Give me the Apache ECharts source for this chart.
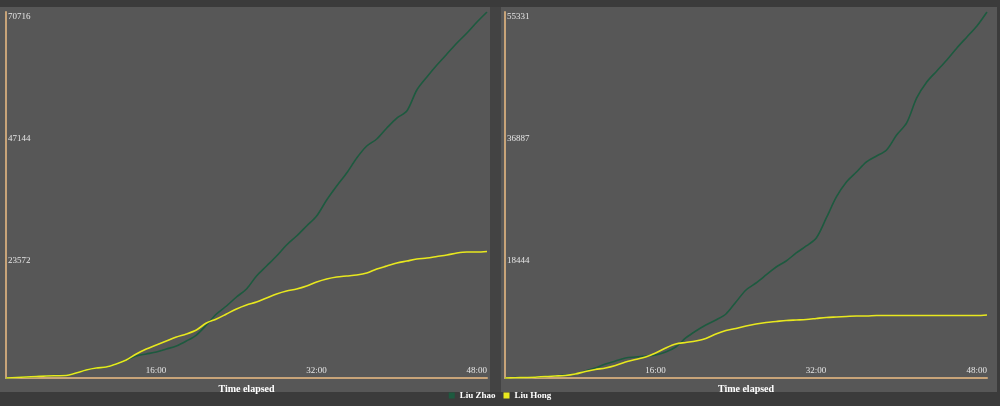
<!DOCTYPE html>
<html>
<head>
<meta charset="utf-8">
<script src="https://cdn.jsdelivr.net/npm/echarts@6/dist/echarts.min.js"></script>
<style>html,body{margin:0;padding:0;background:#3b3b3b;}#c{width:1000px;height:406px;}</style>
</head>
<body>
<div id="c"></div>
<script>
// minutes elapsed
var minutes = [0,1,2,3,4,5,6,7,8,9,10,11,12,13,14,15,16,17,18,19,20,21,22,23,24,25,26,27,28,29,30,31,32,33,34,35,36,37,38,39,40,41,42,43,44,45,46,47,48];
var seriesNames = ['Liu Zhao', 'Liu Hong'];
// left chart
var leftZhao = [0,100,193,290,387,480,483,966,1546,1932,2125,2705,3478,4251,4637,5023,5603,6183,7148,8308,10240,12365,13910,15649,17195,19706,21638,23570,25695,27434,29366,31298,34389,37094,39605,42503,44822,46174,48299,50231,51584,55641,58152,60470,62596,64721,66653,68778,70716];
var leftHong = [0,100,193,290,387,440,483,966,1546,1932,2125,2705,3478,4637,5603,6376,7148,7921,8501,9274,10626,11399,12365,13331,14104,14683,15456,16229,16808,17195,17774,18547,19127,19513,19706,19900,20286,21059,21638,22218,22604,22991,23184,23474,23764,24150,24343,24343,24440];
var leftTicks = [0, 23572, 47144, 70716];
// right chart
var rightZhao = [0,50,76,120,227,300,454,605,1058,1512,2117,2570,3024,3175,3326,3478,3931,4687,6048,7106,8014,8770,9677,11491,13306,14364,15574,16783,17690,18900,19958,21168,24192,27367,29635,31147,32659,33566,34474,36742,38556,42336,44755,46418,48082,49896,51559,53222,55331];
var rightHong = [0,40,76,120,227,300,378,605,983,1285,1512,1890,2419,2797,3175,3780,4536,5141,5368,5594,5972,6653,7182,7484,7862,8165,8392,8543,8694,8770,8845,8996,9148,9223,9299,9374,9374,9450,9450,9450,9450,9450,9450,9450,9450,9450,9450,9450,9526];
var rightTicks = [0, 18444, 36887, 55331];

function pairs(xs, ys){ return xs.map(function(x,i){ return [x, ys[i]]; }); }

var green = '#1d5a3f', yellow = '#e8e81e', axisCol = '#c8a479', txt = '#e6e6e6';
var chart = echarts.init(document.getElementById('c'));

function xAx(gi){
  return {
    gridIndex: gi, type: 'value', min: 0, max: 48, interval: 16,
    name: 'Time elapsed', nameLocation: 'middle', nameGap: 6,
    nameTextStyle: {color: '#ffffff', fontFamily: 'Liberation Serif', fontWeight: 'bold', fontSize: 10},
    axisLine: {lineStyle: {color: axisCol, width: 2}},
    axisTick: {show: false}, splitLine: {show: false},
    axisLabel: {inside: true, showMinLabel: false, color: txt, fontFamily: 'Liberation Serif', fontSize: 9, align: 'right', margin: 3,
      formatter: function(v){ return v === 0 ? '' : v + ':00'; }}
  };
}
function yAx(gi, ticks){
  return {
    gridIndex: gi, type: 'value', min: 0, max: ticks[3], interval: ticks[1],
    axisLine: {show: true, lineStyle: {color: axisCol, width: 2}},
    axisTick: {show: false}, splitLine: {show: false},
    axisLabel: {inside: true, showMinLabel: false, color: txt, fontFamily: 'Liberation Serif', fontSize: 9, verticalAlign: 'top', margin: 2,
      customValues: ticks, formatter: function(v){ return String(Math.round(v)); }}
  };
}
function ln(name, gi, data, color){
  return {name: name, type: 'line', xAxisIndex: gi, yAxisIndex: gi, data: data, showSymbol: false, smooth: 0.3,
    lineStyle: {color: color, width: 1.6}, itemStyle: {color: color}};
}

chart.setOption({
  backgroundColor: '#3b3b3b',
  animation: false,
  graphic: [
    {type: 'rect', shape: {x: 0, y: 7, width: 490, height: 385}, style: {fill: '#575757'}, z: -10},
    {type: 'rect', shape: {x: 490, y: 7, width: 11, height: 385}, style: {fill: '#434343'}, z: -10},
    {type: 'rect', shape: {x: 501, y: 7, width: 496, height: 385}, style: {fill: '#575757'}, z: -10}
  ],
  legend: {bottom: 1, left: 'center', itemWidth: 6, itemHeight: 6, itemGap: 8, icon: 'rect',
    textStyle: {color: '#ffffff', fontFamily: 'Liberation Serif', fontWeight: 'bold', fontSize: 9},
    data: seriesNames},
  grid: [
    {left: 6, right: 513, top: 12, bottom: 28},
    {left: 505, right: 13, top: 12, bottom: 28}
  ],
  xAxis: [xAx(0), xAx(1)],
  yAxis: [yAx(0, leftTicks), yAx(1, rightTicks)],
  series: [
    ln(seriesNames[0], 0, pairs(minutes, leftZhao), green),
    ln(seriesNames[1], 0, pairs(minutes, leftHong), yellow),
    ln(seriesNames[0], 1, pairs(minutes, rightZhao), green),
    ln(seriesNames[1], 1, pairs(minutes, rightHong), yellow)
  ]
});
</script>
</body>
</html>
